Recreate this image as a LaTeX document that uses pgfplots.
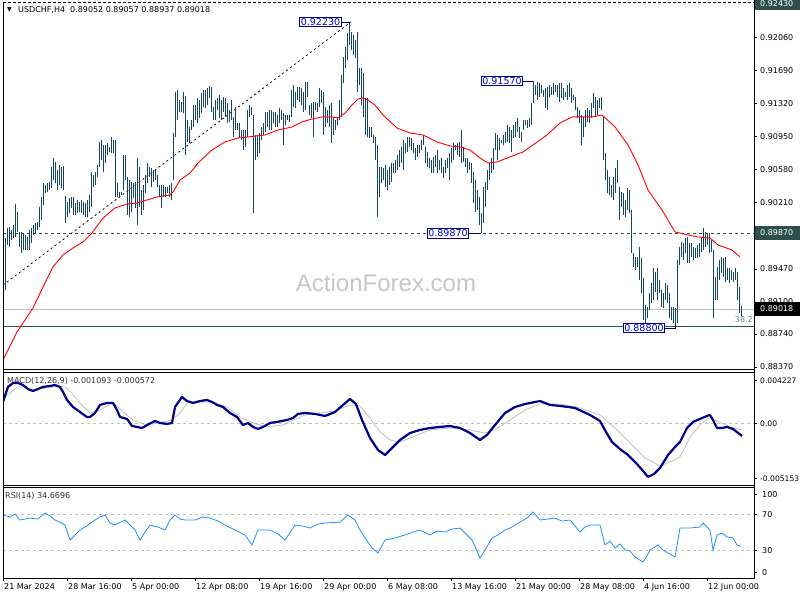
\documentclass[border=0pt]{standalone}
\usepackage{pgfplots}
\pgfplotsset{compat=1.18}
\usepackage{pgfplotstable}
\usepackage{fontspec}
\setmainfont{DejaVu Sans}
\newfontfamily\wmfont{Liberation Sans}
\definecolor{barc}{RGB}{20,68,98}
\definecolor{slate}{RGB}{47,79,79}
\definecolor{navyb}{RGB}{0,0,128}
\definecolor{macdc}{RGB}{0,0,139}
\definecolor{lblue}{RGB}{30,144,255}
\definecolor{silv}{RGB}{192,192,192}
\definecolor{boxtxt}{RGB}{0,0,205}
\definecolor{fibc}{RGB}{112,128,144}

% H4 bars: x = bar position, hi/lo prices
\pgfplotstableread{
x hi lo
5 0.89815 0.89232
7 0.89927 0.89737
9 0.89939 0.89715
11 0.89905 0.89793
13 0.89961 0.89815
15 0.90196 0.89827
17 0.90107 0.89883
19 0.89883 0.89715
21 0.89883 0.89647
23 0.89871 0.89681
25 0.89849 0.89681
27 0.89827 0.89681
29 0.89905 0.89681
31 0.89927 0.89759
33 0.89961 0.89849
35 0.89983 0.89871
37 0.89995 0.89905
39 0.90163 0.89939
41 0.90275 0.90017
43 0.90431 0.90185
45 0.90409 0.90319
47 0.90431 0.90331
49 0.90443 0.90353
51 0.90612 0.90375
53 0.90712 0.90465
55 0.90668 0.90431
57 0.90577 0.90353
59 0.90634 0.90409
61 0.90612 0.90375
63 0.90623 0.90353
65 0.90286 0.89983
67 0.90219 0.90051
69 0.90263 0.90095
71 0.90275 0.90152
73 0.90275 0.90073
75 0.90207 0.90073
77 0.90241 0.90095
79 0.90219 0.90107
81 0.90241 0.90095
83 0.90219 0.90073
85 0.90207 0.90051
87 0.90241 0.90051
89 0.90297 0.90107
91 0.90555 0.90163
93 0.90521 0.90386
95 0.90555 0.90409
97 0.90634 0.90499
99 0.90892 0.90612
101 0.90914 0.90690
103 0.90858 0.90555
105 0.90858 0.90656
107 0.90880 0.90746
109 0.90836 0.90780
111 0.90948 0.90768
113 0.90914 0.90768
115 0.90914 0.90275
117 0.90431 0.90275
119 0.90331 0.90263
121 0.90331 0.90297
123 0.90746 0.90353
125 0.90746 0.90465
127 0.90499 0.90073
129 0.90465 0.90051
131 0.90443 0.90107
133 0.90431 0.90263
135 0.90443 0.90152
137 0.90712 0.89961
139 0.90612 0.90163
141 0.90353 0.90073
143 0.90409 0.90129
145 0.90521 0.90319
147 0.90656 0.90431
149 0.90612 0.90499
151 0.90600 0.90386
153 0.90577 0.90443
155 0.90577 0.90465
157 0.90521 0.90386
159 0.90409 0.90275
161 0.90409 0.90152
163 0.90409 0.90275
165 0.90386 0.90275
167 0.90386 0.90319
169 0.90409 0.90275
171 0.90431 0.90241
173 0.90992 0.90465
175 0.91452 0.90948
177 0.91474 0.91138
179 0.91362 0.91228
181 0.91340 0.91228
183 0.91452 0.91216
185 0.91407 0.90746
187 0.91138 0.90892
189 0.91060 0.90880
191 0.91138 0.91026
193 0.91306 0.91060
195 0.91306 0.91138
197 0.91384 0.91104
199 0.91362 0.91160
201 0.91440 0.91216
203 0.91474 0.91284
205 0.91474 0.91272
207 0.91496 0.91306
209 0.91519 0.91384
211 0.91508 0.91228
213 0.91284 0.91138
215 0.91362 0.91138
217 0.91384 0.91250
219 0.91418 0.91160
221 0.91362 0.91138
223 0.91396 0.91228
225 0.91384 0.91172
227 0.91328 0.91104
229 0.91250 0.91116
231 0.91362 0.91138
233 0.91172 0.90948
235 0.91284 0.91026
237 0.91104 0.91026
239 0.91104 0.90936
241 0.91026 0.90914
243 0.91026 0.90802
245 0.91026 0.90836
247 0.91250 0.90948
249 0.91306 0.91172
251 0.91284 0.91194
253 0.91194 0.90095
255 0.90970 0.90690
257 0.90970 0.90724
259 0.90992 0.90768
261 0.91060 0.90914
263 0.91104 0.90970
265 0.91228 0.91004
267 0.91228 0.91060
269 0.91250 0.91026
271 0.91250 0.91026
273 0.91228 0.91104
275 0.91228 0.91060
277 0.91194 0.91060
279 0.91272 0.91104
281 0.91250 0.91138
283 0.91216 0.90858
285 0.91194 0.91082
287 0.91194 0.91138
289 0.91194 0.91116
291 0.91474 0.91172
293 0.91530 0.91284
295 0.91452 0.91272
297 0.91508 0.91362
299 0.91508 0.91340
301 0.91496 0.91306
303 0.91452 0.91228
305 0.91564 0.91250
307 0.91564 0.91396
309 0.91306 0.91194
311 0.91328 0.91160
313 0.91340 0.90948
315 0.91340 0.91250
317 0.91328 0.91228
319 0.91496 0.91284
321 0.91474 0.91328
323 0.91452 0.90970
325 0.91284 0.91060
327 0.91250 0.91104
329 0.91306 0.91060
331 0.91328 0.90880
333 0.91172 0.90970
335 0.91138 0.91026
337 0.91172 0.91082
339 0.91362 0.91138
341 0.91642 0.91172
343 0.91845 0.91552
345 0.91957 0.91720
347 0.92113 0.91810
349 0.92230 0.91979
351 0.92125 0.91923
353 0.92091 0.91867
355 0.92035 0.91833
357 0.92125 0.91452
359 0.91720 0.91530
361 0.91720 0.91306
363 0.91664 0.91172
365 0.91384 0.90970
367 0.91384 0.90948
369 0.91060 0.90936
371 0.91060 0.90948
373 0.90970 0.90880
375 0.90948 0.90690
377 0.90858 0.90051
379 0.90612 0.90275
381 0.90612 0.90431
383 0.90600 0.90465
385 0.90634 0.90386
387 0.90577 0.90353
389 0.90612 0.90409
391 0.90656 0.90443
393 0.90656 0.90543
395 0.90690 0.90543
397 0.90746 0.90577
399 0.90802 0.90612
401 0.90836 0.90656
403 0.90914 0.90577
405 0.90880 0.90768
407 0.90948 0.90780
409 0.90948 0.90836
411 0.90936 0.90802
413 0.90880 0.90768
415 0.90824 0.90690
417 0.90858 0.90724
419 0.90858 0.90768
421 0.90914 0.90802
423 0.90970 0.90858
425 0.90836 0.90656
427 0.90780 0.90612
429 0.90712 0.90600
431 0.90690 0.90543
433 0.90724 0.90543
435 0.90746 0.90612
437 0.90802 0.90543
439 0.90690 0.90577
441 0.90712 0.90543
443 0.90612 0.90487
445 0.90690 0.90543
447 0.90712 0.90600
449 0.90768 0.90465
451 0.90824 0.90656
453 0.90880 0.90690
455 0.90858 0.90802
457 0.90880 0.90746
459 0.90892 0.90724
461 0.91026 0.90656
463 0.90836 0.90668
465 0.90712 0.90612
467 0.90712 0.90543
469 0.90668 0.90577
471 0.90656 0.90431
473 0.90555 0.90207
475 0.90465 0.90107
477 0.90353 0.90129
479 0.90275 0.89961
481 0.90095 0.89870
483 0.90386 0.89983
485 0.90443 0.90163
487 0.90577 0.90353
489 0.90656 0.90465
491 0.90712 0.90543
493 0.90824 0.90577
495 0.90992 0.90802
497 0.90970 0.90690
499 0.90936 0.90802
501 0.90914 0.90880
503 0.90970 0.90858
505 0.91004 0.90880
507 0.91082 0.90892
509 0.91060 0.90880
511 0.91026 0.90780
513 0.91082 0.90936
515 0.91116 0.90948
517 0.91160 0.91004
519 0.91060 0.90936
521 0.91004 0.90892
523 0.91138 0.91026
525 0.91138 0.91082
527 0.91138 0.91048
529 0.91160 0.91060
531 0.91328 0.91082
533 0.91570 0.91328
535 0.91530 0.91418
537 0.91564 0.91362
539 0.91552 0.91396
541 0.91530 0.91440
543 0.91474 0.91396
545 0.91496 0.91272
547 0.91508 0.91250
549 0.91530 0.91396
551 0.91508 0.91418
553 0.91552 0.91418
555 0.91530 0.91452
557 0.91530 0.91396
559 0.91552 0.91340
561 0.91552 0.91384
563 0.91496 0.91362
565 0.91452 0.91396
567 0.91530 0.91362
569 0.91552 0.91396
571 0.91496 0.91328
573 0.91418 0.91362
575 0.91396 0.91250
577 0.91284 0.91160
579 0.91250 0.91104
581 0.91194 0.90858
583 0.91172 0.90948
585 0.91250 0.91060
587 0.91272 0.91116
589 0.91250 0.91104
591 0.91328 0.91160
593 0.91440 0.91272
595 0.91396 0.91172
597 0.91362 0.91194
599 0.91384 0.91272
601 0.91396 0.91250
603 0.91172 0.90690
605 0.90768 0.90465
607 0.90577 0.90319
609 0.90499 0.90297
611 0.90409 0.90275
613 0.90499 0.90241
615 0.90600 0.90319
617 0.90690 0.90431
619 0.90386 0.90017
621 0.90331 0.90163
623 0.90319 0.90073
625 0.90241 0.90051
627 0.90375 0.90129
629 0.90353 0.90095
631 0.90129 0.89647
633 0.89647 0.89491
635 0.89603 0.89456
637 0.89603 0.89491
639 0.89715 0.89344
641 0.89592 0.89198
643 0.89366 0.88896
645 0.89064 0.88800
647 0.89042 0.88918
649 0.89198 0.89008
651 0.89310 0.89086
653 0.89478 0.89120
655 0.89434 0.89210
657 0.89478 0.89120
659 0.89344 0.89198
661 0.89232 0.89042
663 0.89198 0.89030
665 0.89310 0.89120
667 0.89288 0.89086
669 0.89198 0.88918
671 0.89042 0.88896
673 0.89042 0.88862
675 0.89030 0.88810
677 0.89569 0.88862
679 0.89715 0.89513
681 0.89771 0.89603
683 0.89759 0.89569
685 0.89815 0.89647
687 0.89827 0.89535
689 0.89759 0.89535
691 0.89759 0.89603
693 0.89715 0.89569
695 0.89703 0.89592
697 0.89737 0.89592
699 0.89759 0.89603
701 0.89827 0.89659
703 0.89927 0.89681
705 0.89883 0.89715
707 0.89871 0.89737
709 0.89871 0.89647
711 0.89793 0.89659
713 0.89681 0.88918
715 0.89378 0.89120
717 0.89491 0.89120
719 0.89569 0.89344
721 0.89603 0.89422
723 0.89592 0.89378
725 0.89603 0.89322
727 0.89478 0.89344
729 0.89478 0.89310
731 0.89456 0.89344
733 0.89434 0.89322
735 0.89478 0.89344
737 0.89434 0.89120
739 0.89266 0.88974
741 0.89057 0.88937
}\bars

% red moving average
\pgfplotstableread{
x y
3 0.88447
17 0.88762
33 0.89030
43 0.89266
53 0.89491
63 0.89625
73 0.89703
83 0.89771
92 0.89871
103 0.90039
115 0.90152
127 0.90196
137 0.90207
147 0.90241
157 0.90275
170 0.90297
173 0.90331
180 0.90465
190 0.90543
198 0.90656
212 0.90802
225 0.90892
238 0.90936
248 0.90948
265 0.90970
278 0.91026
292 0.91060
302 0.91116
312 0.91149
322 0.91172
332 0.91172
338 0.91160
345 0.91216
352 0.91306
358 0.91373
363 0.91384
368 0.91362
375 0.91306
383 0.91194
397 0.91048
410 0.90992
423 0.90970
437 0.90892
450 0.90847
460 0.90836
470 0.90802
480 0.90712
488 0.90656
497 0.90668
510 0.90724
523 0.90780
533 0.90858
547 0.90970
560 0.91104
572 0.91172
592 0.91172
602 0.91194
615 0.91060
628 0.90858
638 0.90634
648 0.90353
662 0.90129
675 0.89883
688 0.89849
698 0.89827
710 0.89815
718 0.89737
732 0.89681
740 0.89603
}\ma

\pgfplotstableread{
x y
3 0.00180
8 0.00306
13 0.00339
18 0.00339
23 0.00322
28 0.00289
33 0.00272
38 0.00289
43 0.00306
50 0.00314
55 0.00322
60 0.00306
63 0.00264
67 0.00197
73 0.00138
80 0.00096
87 0.00054
90 0.00054
95 0.00088
100 0.00155
107 0.00172
113 0.00172
117 0.00113
120 0.00054
127 0.00038
132 -0.00021
137 -0.00029
142 -0.00038
147 -0.00013
155 0.00021
160 0.00004
167 -0.00004
172 0.00004
175 0.00138
182 0.00222
187 0.00188
193 0.00172
200 0.00188
207 0.00197
212 0.00180
217 0.00155
223 0.00138
230 0.00088
237 0.00054
243 -0.00013
248 0.00004
253 -0.00029
258 -0.00046
263 -0.00029
270 0.00004
277 0.00013
287 0.00029
293 0.00046
298 0.00080
305 0.00088
315 0.00080
325 0.00063
335 0.00096
343 0.00155
350 0.00205
356 0.00163
362 0.00029
370 -0.00121
378 -0.00222
385 -0.00264
393 -0.00197
400 -0.00138
410 -0.00080
420 -0.00054
430 -0.00038
440 -0.00029
450 -0.00021
460 -0.00038
470 -0.00080
480 -0.00138
487 -0.00096
495 -0.00013
505 0.00088
515 0.00138
525 0.00163
540 0.00188
550 0.00155
560 0.00147
575 0.00130
590 0.00071
600 0.00021
606 -0.00071
612 -0.00155
620 -0.00214
628 -0.00264
636 -0.00331
644 -0.00406
648 -0.00448
654 -0.00423
660 -0.00373
668 -0.00264
675 -0.00197
680 -0.00155
687 -0.00038
693 0.00013
700 0.00038
707 0.00063
710 0.00071
713 0.00029
717 -0.00038
722 -0.00038
727 -0.00029
733 -0.00046
742 -0.00105
}\macd

\pgfplotstableread{
x y
3 0.00214
10 0.00255
17 0.00306
23 0.00306
33 0.00281
47 0.00297
58 0.00314
65 0.00306
72 0.00255
80 0.00172
90 0.00088
100 0.00113
110 0.00163
115 0.00163
123 0.00096
133 0.00029
143 -0.00004
153 -0.00004
163 0.00013
172 0.00029
180 0.00088
188 0.00180
200 0.00180
213 0.00180
227 0.00138
240 0.00054
253 0.00004
267 -0.00029
283 -0.00013
298 0.00046
305 0.00071
320 0.00088
335 0.00105
350 0.00155
360 0.00147
370 0.00046
380 -0.00071
390 -0.00138
400 -0.00155
415 -0.00105
430 -0.00054
450 -0.00038
470 -0.00054
485 -0.00080
495 -0.00054
510 0.00029
525 0.00113
540 0.00163
560 0.00163
580 0.00130
600 0.00071
615 -0.00038
630 -0.00163
645 -0.00289
660 -0.00356
670 -0.00322
680 -0.00281
690 -0.00113
700 -0.00013
708 0.00046
717 0.00021
730 -0.00029
742 -0.00054
}\sig

\pgfplotstableread{
x y
3 69.2
10 67.0
15 70.3
20 63.7
30 65.9
38 64.8
45 71.4
50 68.1
55 63.7
62 60.4
65 58.2
70 41.8
80 52.7
88 58.2
95 63.7
100 67.0
105 69.2
110 60.4
115 58.2
125 63.7
130 58.2
135 52.7
140 41.8
145 50.5
150 58.2
158 56.0
165 52.7
170 63.7
175 69.2
180 64.8
185 63.7
195 63.7
203 67.0
210 65.9
218 62.6
225 58.2
235 52.7
245 47.3
252 36.3
258 52.7
270 52.7
278 48.4
285 41.8
295 58.2
303 57.1
310 54.9
318 59.3
325 60.4
340 61.5
348 69.2
355 63.7
360 52.7
365 44.0
372 33.0
378 27.5
385 41.8
395 44.0
405 47.3
413 50.5
420 52.7
430 47.3
437 51.6
445 50.5
452 53.8
460 54.9
466 48.4
472 41.8
480 22.0
485 30.8
492 44.0
498 47.3
505 52.7
512 56.0
520 61.5
527 65.9
533 72.5
540 63.7
548 64.8
555 65.9
562 62.6
570 63.7
575 57.1
580 50.5
585 56.0
590 58.2
600 58.2
605 36.3
610 40.7
615 33.0
620 37.4
625 30.8
630 29.7
635 23.1
643 17.6
647 24.2
650 30.8
655 34.1
658 36.3
663 30.8
668 27.5
675 23.1
680 54.9
690 54.9
700 56.0
703 60.4
707 56.0
710 52.7
713 30.8
717 47.3
722 49.5
727 45.1
733 44.0
737 36.3
741 34.7
}\rsi

\begin{document}
\begin{tikzpicture}
\useasboundingbox[fill=white] (0,0) rectangle (800bp,600bp);
\pgfplotsset{panel/.style={
  scale only axis, width=751bp, xmin=3, xmax=754,
  axis line style={draw=none}, xtick=\empty,
  ytick pos=right, yticklabel pos=right, tick align=outside,
  major tick length=3bp, tick style={black, line width=0.6bp},
  scaled y ticks=false,
  tick label style={font=\fontsize{8bp}{9bp}\selectfont},
  yticklabel style={anchor=west, inner sep=0pt, xshift=3bp}}}

% price window
\begin{axis}[panel, at={(3bp,596bp)}, anchor=north west, height=365bp,
  ymin=0.88347, ymax=0.92438,
  ytick={0.92060,0.91690,0.91320,0.90950,0.90580,0.90210,0.89470,0.89100,0.88740,0.88370},
  yticklabels={0.92060,0.91690,0.91320,0.90950,0.90580,0.90210,0.89470,0.89100,0.88740,0.88370}]
\addplot[silv, line width=0.8bp] coordinates {(3,0.89018) (754,0.89018)};
\addplot[slate, line width=0.8bp] coordinates {(3,0.88829) (754,0.88829)};
\addplot[slate, line width=0.8bp, dash pattern=on 3bp off 3bp] coordinates {(3,0.89870) (754,0.89870)};
\addplot[black, line width=0.8bp, dash pattern=on 2bp off 3bp] coordinates {(3,0.89288) (350,0.92230)};
\addplot[barc, only marks, mark=*, mark options={opacity=0},
  error bars/.cd, y dir=plus, y explicit, error mark=none,
  error bar style={line width=1bp, barc, opacity=1}]
  table[x=x, y=lo, y error expr=\thisrow{hi}-\thisrow{lo}] {\bars};
\addplot[red, line width=0.9bp] table {\ma};
\end{axis}

% MACD window
\begin{axis}[panel, at={(3bp,227bp)}, anchor=north west, height=112bp,
  ymin=-0.005153, ymax=0.004227,
  yticklabel style={xshift=0bp, font=\fontsize{7.6bp}{9bp}\selectfont},
  ytick={-0.00459,0,0.00358}, yticklabels={-0.005153,0.00,0.004227}]
\addplot[silv, line width=0.7bp, dash pattern=on 3bp off 3bp] coordinates {(3,0) (754,0)};
\addplot[silv, line width=0.8bp] table {\sig};
\addplot[macdc, line width=2.2bp, line join=round] table {\macd};
\end{axis}

% RSI window
\begin{axis}[panel, at={(3bp,113bp)}, anchor=north west, height=91bp,
  ymin=0, ymax=100,
  yticklabel style={xshift=2bp},
  ytick={6.3,30,70,92}, yticklabels={0,30,70,100},
  xtick={3,67,131,195,259,323,387,451,515,579,643,707},
  xticklabels={21 Mar 2024,28 Mar 16:00,5 Apr 00:00,12 Apr 08:00,19 Apr 16:00,29 Apr 00:00,6 May 08:00,13 May 16:00,21 May 00:00,28 May 08:00,4 Jun 16:00,12 Jun 00:00},
  xtick pos=bottom,
  xticklabel style={anchor=north west, inner sep=0pt, xshift=1bp, yshift=-2bp}]
\addplot[silv, line width=0.7bp, dash pattern=on 3bp off 3bp] coordinates {(3,70) (754,70)};
\addplot[silv, line width=0.7bp, dash pattern=on 3bp off 3bp] coordinates {(3,30) (754,30)};
\addplot[lblue, line width=0.8bp] table {\rsi};
\end{axis}

% frames, labels and objects, in pixel units from the top left
\begin{scope}[x=1bp, y=-1bp, yshift=600bp, font=\fontsize{8bp}{9bp}\selectfont]
\draw[black, line width=1bp] (3,2.5)--(3,578.5);
\draw[black, line width=1bp] (754.5,0)--(754.5,578.5);
\draw[black, line width=1bp, dash pattern=on 3bp off 2bp] (3,2.5)--(754.5,2.5);
\draw[black, line width=1bp] (3,369.5)--(754.5,369.5) (3,372.5)--(754.5,372.5)
  (3,485.5)--(754.5,485.5) (3,487.5)--(754.5,487.5) (3,578.5)--(754.5,578.5);
\node[anchor=west, inner sep=0pt] at (7,10) {\fontsize{6bp}{7bp}\selectfont▼};
\node[anchor=west, inner sep=0pt] at (18,10) {USDCHF,H4\ \ 0.89052 0.89057 0.88937 0.89018};
\node[anchor=west, inner sep=0pt, text=black!80] at (7,381) {MACD(12,26,9) -0.001093 -0.000572};
\node[anchor=west, inner sep=0pt, text=black!80] at (5,496) {RSI(14) 34.6696};
\node[text=black!22] at (386,283) {\wmfont\fontsize{24bp}{28bp}\selectfont ActionForex.com};
\node[anchor=east, inner sep=0pt, text=fibc] at (753,320) {38.2};
% price boxes on the scale
\fill[slate] (755,-3) rectangle (800,10);
\node[anchor=west, inner sep=0pt, text=white] at (760,4) {0.92430};
\fill[slate] (755,226) rectangle (800,240);
\node[anchor=west, inner sep=0pt, text=white] at (760,233) {0.89870};
\fill[black] (755,302.5) rectangle (800,316);
\node[anchor=west, inner sep=0pt, text=white] at (760,309) {0.89018};
% high/low labels
\begin{scope}[font=\fontsize{9.5bp}{11bp}\selectfont]
\draw[navyb, line width=0.8bp] (342,22)--(351,22);
\node[draw=navyb, fill=white, text=boxtxt, inner sep=1.2bp, line width=0.9bp] at (320.5,22) {0.92230};
\draw[navyb, line width=0.8bp] (523,81)--(533,81);
\node[draw=navyb, fill=white, text=boxtxt, inner sep=1.2bp, line width=0.9bp] at (502,81) {0.91570};
\draw[navyb, line width=0.8bp] (469,233.5)--(481,233.5);
\node[draw=navyb, fill=white, text=boxtxt, inner sep=1.2bp, line width=0.9bp] at (448,233.5) {0.89870};
\draw[navyb, line width=0.8bp] (665,328)--(675.5,328)--(675.5,325);
\node[draw=navyb, fill=white, text=boxtxt, inner sep=1.2bp, line width=0.9bp] at (644,328) {0.88800};
\end{scope}
\end{scope}
\end{tikzpicture}
\end{document}
